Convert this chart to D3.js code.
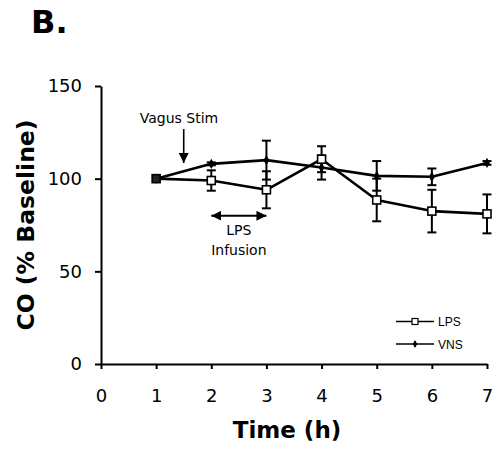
<!DOCTYPE html>
<html>
<head>
<meta charset="utf-8">
<script src="https://cdn.jsdelivr.net/npm/d3@7"></script>
<style>
  html, body { margin: 0; padding: 0; background: #fff; }
  svg { display: block; }
</style>
</head>
<body>
<svg id="chart" width="496" height="460"></svg>
<script>
// Time points (h) and cardiac output (% of baseline) for each group
const times = [1, 2, 3, 4, 5, 6, 7];
const lpsMean = [100, 99, 94, 110.5, 88.5, 82.5, 81];
const lpsErr  = [0, 5.5, 10, 7, 11.5, 11.5, 10.5];
const vnsMean = [100, 108, 110, 106, 101.5, 101, 108.5];
const vnsErr  = [0, 0.8, 10.5, 6.5, 8, 4.5, 1];
const xTicks = [0, 1, 2, 3, 4, 5, 6, 7];
const yTicks = [0, 50, 100, 150];
const vagusStimTime = 1.5;
const infusionSpan = [2, 3];
const infusionLevel = 80;

const svg = d3.select("#chart");
const x = d3.scaleLinear().domain([0, 7]).range([101, 487]);
const y = d3.scaleLinear().domain([0, 150]).range([364, 86]);
const font = "'DejaVu Sans', Verdana, sans-serif";

// panel letter
svg.append("text").attr("x", 31).attr("y", 33)
  .attr("font-family", font).attr("font-weight", "bold").attr("font-size", 32)
  .text("B.");

// arrowheads
const defs = svg.append("defs");
defs.append("marker").attr("id", "head").attr("viewBox", "0 0 10 10")
  .attr("refX", 10).attr("refY", 5).attr("markerWidth", 10).attr("markerHeight", 10)
  .attr("markerUnits", "userSpaceOnUse").attr("orient", "auto-start-reverse")
  .append("path").attr("d", "M0,0 L10,5 L0,10 Z").attr("fill", "#000");

// axes
const xAxis = svg.append("g").attr("transform", `translate(0,${y(0)})`)
  .call(d3.axisBottom(x).tickValues(xTicks).tickFormat(d3.format("d"))
    .tickSize(5).tickSizeOuter(0).tickPadding(20));
const yAxis = svg.append("g").attr("transform", `translate(${x(0)},0)`)
  .call(d3.axisLeft(y).tickValues(yTicks).tickSize(6).tickSizeOuter(0).tickPadding(13));
[xAxis, yAxis].forEach(g => {
  g.select(".domain").attr("stroke", "#000").attr("stroke-width", 2);
  g.selectAll(".tick line").attr("stroke", "#000").attr("stroke-width", 2);
  g.selectAll(".tick text").attr("font-family", font).attr("font-size", 18).attr("fill", "#000");
});

// axis titles
svg.append("text").attr("x", 287).attr("y", 438).attr("text-anchor", "middle")
  .attr("font-family", font).attr("font-weight", "bold").attr("font-size", 23)
  .text("Time (h)");
svg.append("text").attr("transform", "translate(34,225) rotate(-90)")
  .attr("text-anchor", "middle")
  .attr("font-family", font).attr("font-weight", "bold").attr("font-size", 23.5)
  .text("CO (% Baseline)");

const lps = times.map((t, i) => ({ t, v: lpsMean[i], e: lpsErr[i] }));
const vns = times.map((t, i) => ({ t, v: vnsMean[i], e: vnsErr[i] }));

// error bars
function errorBars(data) {
  const g = svg.append("g").attr("stroke", "#000").attr("stroke-width", 2);
  data.filter(d => d.e > 0).forEach(d => {
    const cx = x(d.t), y1 = y(d.v + d.e), y2 = y(d.v - d.e);
    g.append("line").attr("x1", cx).attr("x2", cx).attr("y1", y1).attr("y2", y2);
    [y1, y2].forEach(yy => g.append("line")
      .attr("x1", cx - 4.5).attr("x2", cx + 4.5).attr("y1", yy).attr("y2", yy));
  });
}
errorBars(lps);
errorBars(vns);

// series lines
const line = d3.line().x(d => x(d.t)).y(d => y(d.v));
[vns, lps].forEach(data => svg.append("path").datum(data).attr("d", line)
  .attr("fill", "none").attr("stroke", "#000").attr("stroke-width", 2.6)
  .attr("stroke-linejoin", "round"));

// markers
const diamond = d3.symbol().type(d3.symbolDiamond).size(30);
svg.append("g").selectAll("path").data(vns).join("path")
  .attr("transform", d => `translate(${x(d.t)},${y(d.v)})`)
  .attr("d", diamond).attr("fill", "#000");
svg.append("g").selectAll("rect").data(lps).join("rect")
  .attr("x", d => x(d.t) - 4).attr("y", d => y(d.v) - 4)
  .attr("width", 8).attr("height", 8)
  .attr("fill", d => d.t === 1 ? "#222" : "#fff")
  .attr("stroke", "#000").attr("stroke-width", 1.6);

// annotations
svg.append("text").attr("x", 179).attr("y", 123).attr("text-anchor", "middle")
  .attr("font-family", font).attr("font-size", 14).text("Vagus Stim");
svg.append("line").attr("x1", x(vagusStimTime)).attr("x2", x(vagusStimTime))
  .attr("y1", 129).attr("y2", 163).attr("stroke", "#000").attr("stroke-width", 1.6)
  .attr("marker-end", "url(#head)");
svg.append("line").attr("x1", x(infusionSpan[0])).attr("x2", x(infusionSpan[1]))
  .attr("y1", y(infusionLevel)).attr("y2", y(infusionLevel))
  .attr("stroke", "#000").attr("stroke-width", 2)
  .attr("marker-start", "url(#head)").attr("marker-end", "url(#head)");
const midInf = x((infusionSpan[0] + infusionSpan[1]) / 2);
svg.append("text").attr("x", midInf).attr("y", 235).attr("text-anchor", "middle")
  .attr("font-family", font).attr("font-size", 14).text("LPS");
svg.append("text").attr("x", midInf).attr("y", 255).attr("text-anchor", "middle")
  .attr("font-family", font).attr("font-size", 14).text("Infusion");

// legend
const legendFont = "'Liberation Sans Narrow', 'Arial Narrow', 'Liberation Sans', sans-serif";
const legend = [
  { name: "LPS", y: 321.5, kind: "square" },
  { name: "VNS", y: 344, kind: "diamond" }
];
legend.forEach(item => {
  const g = svg.append("g");
  g.append("line").attr("x1", 396).attr("x2", 434).attr("y1", item.y).attr("y2", item.y)
    .attr("stroke", "#000").attr("stroke-width", 1.5);
  if (item.kind === "square") {
    g.append("rect").attr("x", 412).attr("y", item.y - 3).attr("width", 6).attr("height", 6)
      .attr("fill", "#fff").attr("stroke", "#000").attr("stroke-width", 1.2);
  } else {
    g.append("path").attr("transform", `translate(415,${item.y})`)
      .attr("d", d3.symbol().type(d3.symbolDiamond).size(18)).attr("fill", "#000");
  }
  g.append("text").attr("x", 438).attr("y", item.y + 4.5)
    .attr("font-family", legendFont).attr("font-size", 12).text(item.name);
});
</script>
</body>
</html>
